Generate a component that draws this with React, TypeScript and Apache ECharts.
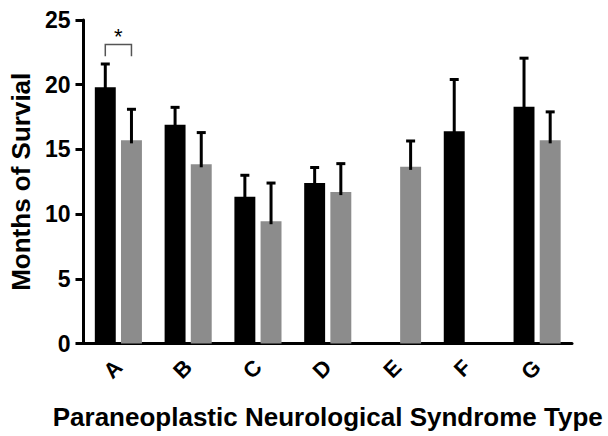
import React, { useEffect, useRef } from "react";
import * as echarts from "echarts";

const categories = ["A", "B", "C", "D", "E", "F", "G"];
const blackMeans: (number | null)[] = [19.8, 16.9, 11.35, 12.4, null, 16.4, 18.3];
const blackUpper: (number | null)[] = [21.6, 18.25, 13.0, 13.6, null, 20.4, 22.05];
const grayMeans: (number | null)[] = [15.7, 13.85, 9.45, 11.7, 13.65, null, 15.7];
const grayUpper: (number | null)[] = [18.1, 16.3, 12.4, 13.9, 15.65, null, 17.9];
const yTicks = { min: 0, max: 25, interval: 5 };
// significance bracket: [categoryIndex, bracket top value, leg bottom value, star value]
const sigBrackets = [[0, 23.1, 22.2, 23.75]];

const FONT = "Liberation Sans, Arial, sans-serif";

export default function App() {
  const ref = useRef<HTMLDivElement>(null);
  useEffect(() => {
    document.body.style.margin = "0";
    if (!ref.current) return;
    const chart = echarts.init(ref.current, null, { renderer: "svg" });

    const errData = (means: (number | null)[], upper: (number | null)[]) =>
      means.map((m, i) => (m == null || upper[i] == null ? [i, null, null] : [i, m, upper[i]]));

    const errSeries = (means: (number | null)[], upper: (number | null)[], side: number) => ({
      type: "custom",
      z: 5,
      data: errData(means, upper),
      renderItem: (params: any, api: any) => {
        const lo = api.value(1);
        const hi = api.value(2);
        if (lo == null || hi == null || isNaN(lo) || isNaN(hi)) return null;
        const band = api.size([1, 0])[0];
        const off = side * band * 0.1875;
        const p1 = api.coord([api.value(0), lo]);
        const p2 = api.coord([api.value(0), hi]);
        const x = p1[0] + off;
        const cap = 4.5;
        return {
          type: "group",
          children: [
            { type: "line", shape: { x1: x, y1: p1[1] + 3, x2: x, y2: p2[1] }, style: { stroke: "#000", lineWidth: 3 } },
            { type: "line", shape: { x1: x - cap, y1: p2[1], x2: x + cap, y2: p2[1] }, style: { stroke: "#000", lineWidth: 3 } },
          ],
        };
      },
    });

    chart.setOption({
      animation: false,
      grid: { left: 81, right: 36, top: 20, bottom: 92.5 },
      xAxis: {
        type: "category",
        data: categories,
        name: "Paraneoplastic Neurological Syndrome Type",
        nameLocation: "middle",
        nameGap: 60,
        nameTextStyle: { color: "#000", fontSize: 26, fontWeight: "bold", fontFamily: FONT },
        axisLine: { lineStyle: { color: "#000", width: 3 } },
        axisTick: { alignWithLabel: true, length: 8, lineStyle: { color: "#000", width: 3 } },
        axisLabel: { rotate: 45, margin: 20, color: "#000", fontSize: 22, fontWeight: "bold", fontFamily: FONT },
      },
      yAxis: {
        type: "value",
        min: yTicks.min,
        max: yTicks.max,
        interval: yTicks.interval,
        name: "Months of Survial",
        nameLocation: "middle",
        nameGap: 48,
        nameTextStyle: { color: "#000", fontSize: 26, fontWeight: "bold", fontFamily: FONT },
        splitLine: { show: false },
        axisLine: { show: true, lineStyle: { color: "#000", width: 3 } },
        axisTick: { show: true, length: 8, lineStyle: { color: "#000", width: 3 } },
        axisLabel: { margin: 13, color: "#000", fontSize: 23, fontWeight: "bold", fontFamily: FONT },
      },
      series: [
        {
          type: "bar",
          data: blackMeans.map((v) => (v == null ? "-" : v)),
          barWidth: "30%",
          barGap: "25%",
          itemStyle: { color: "#000" },
        },
        {
          type: "bar",
          data: grayMeans.map((v) => (v == null ? "-" : v)),
          barWidth: "30%",
          barGap: "25%",
          itemStyle: { color: "#8c8c8c" },
        },
        errSeries(blackMeans, blackUpper, -1),
        errSeries(grayMeans, grayUpper, 1),
        {
          type: "custom",
          z: 6,
          data: sigBrackets,
          renderItem: (params: any, api: any) => {
            const band = api.size([1, 0])[0];
            const off = band * 0.1875;
            const top = api.coord([api.value(0), api.value(1)]);
            const bot = api.coord([api.value(0), api.value(2)]);
            const star = api.coord([api.value(0), api.value(3)]);
            const xl = top[0] - off;
            const xr = top[0] + off;
            return {
              type: "group",
              children: [
                {
                  type: "polyline",
                  shape: { points: [[xl, bot[1]], [xl, top[1]], [xr, top[1]], [xr, bot[1]]] },
                  style: { stroke: "#555", lineWidth: 1.5, fill: null },
                },
                {
                  type: "text",
                  x: top[0],
                  y: star[1],
                  style: { text: "*", fill: "#000", fontSize: 22, fontFamily: FONT, align: "center", verticalAlign: "middle" },
                },
              ],
            };
          },
        },
      ],
    });
    return () => chart.dispose();
  }, []);
  return <div ref={ref} style={{ width: 608, height: 436 }} />;
}
